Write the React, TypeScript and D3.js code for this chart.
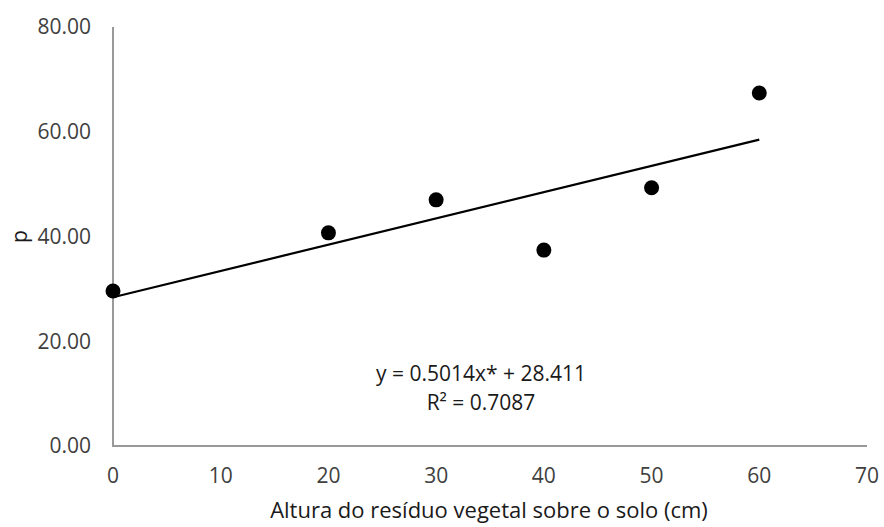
import React, { useEffect, useRef } from 'react';
import * as d3 from 'd3';

// measured points: residue height (cm) vs p
const heights = [0, 20, 30, 40, 50, 60];
const pValues = [29.6, 40.7, 47.0, 37.4, 49.3, 67.4];
const xTicks = [0, 10, 20, 30, 40, 50, 60, 70];
const yTicks = [0, 20, 40, 60, 80];
const slope = 0.5014;
const intercept = 28.411;
const equationLines = ['y = 0.5014x* + 28.411', 'R² = 0.7087'];
const xTitle = 'Altura do resíduo vegetal sobre o solo (cm)';
const yTitle = 'p';

const W = 884;
const H = 527;
const FONT = '"Open Sans", sans-serif';

const App = () => {
  const ref = useRef<SVGSVGElement>(null);

  useEffect(() => {
    draw();
  });

  const draw = () => {
    const svg = d3.select(ref.current);
    svg.selectAll('*').remove();

    const x = d3.scaleLinear().domain([0, 70]).range([113, 867]);
    const y = d3.scaleLinear().domain([0, 80]).range([446, 27]);

    // axes (no tick marks, just the lines and labels)
    svg.append('line')
      .attr('x1', x(0)).attr('x2', x(0))
      .attr('y1', y(80)).attr('y2', y(0))
      .attr('stroke', '#999').attr('stroke-width', 2);
    svg.append('line')
      .attr('x1', x(0) - 1).attr('x2', x(70))
      .attr('y1', y(0)).attr('y2', y(0))
      .attr('stroke', '#999').attr('stroke-width', 2);

    svg.append('g')
      .selectAll('text')
      .data(yTicks)
      .enter()
      .append('text')
      .attr('x', 91)
      .attr('y', (d) => y(d))
      .attr('dy', '0.35em')
      .attr('text-anchor', 'end')
      .attr('font-family', FONT)
      .attr('font-size', 21)
      .attr('fill', '#404040')
      .text((d) => d.toFixed(2));

    svg.append('g')
      .selectAll('text')
      .data(xTicks)
      .enter()
      .append('text')
      .attr('x', (d) => x(d))
      .attr('y', 476)
      .attr('dy', '0.35em')
      .attr('text-anchor', 'middle')
      .attr('font-family', FONT)
      .attr('font-size', 21)
      .attr('fill', '#404040')
      .text((d) => String(d));

    // trend line
    svg.append('line')
      .attr('x1', x(0)).attr('y1', y(intercept))
      .attr('x2', x(60)).attr('y2', y(intercept + slope * 60))
      .attr('stroke', '#000').attr('stroke-width', 2.2);

    svg.selectAll('.pt')
      .data(heights)
      .enter()
      .append('circle')
      .attr('class', 'pt')
      .attr('cx', (d) => x(d))
      .attr('cy', (d, i) => y(pValues[i]))
      .attr('r', 7.5)
      .attr('fill', '#000');

    svg.append('g')
      .selectAll('text')
      .data(equationLines)
      .enter()
      .append('text')
      .attr('x', 481)
      .attr('y', (d, i) => 374 + i * 29)
      .attr('dy', '0.35em')
      .attr('text-anchor', 'middle')
      .attr('font-family', FONT)
      .attr('font-size', 21)
      .attr('fill', '#1a1a1a')
      .text((d) => d);

    svg.append('text')
      .attr('x', 489)
      .attr('y', 518)
      .attr('text-anchor', 'middle')
      .attr('font-family', FONT)
      .attr('font-size', 22)
      .attr('fill', '#1a1a1a')
      .text(xTitle);

    svg.append('text')
      .attr('transform', `translate(20,${y(40)}) rotate(-90)`)
      .attr('dy', '0.35em')
      .attr('text-anchor', 'middle')
      .attr('font-family', FONT)
      .attr('font-size', 21)
      .attr('fill', '#1a1a1a')
      .text(yTitle);
  };

  return (
    <svg
      ref={ref}
      width={W}
      height={H}
      style={{ position: 'absolute', left: 0, top: 0, background: '#fff' }}
    />
  );
};

export default App;
